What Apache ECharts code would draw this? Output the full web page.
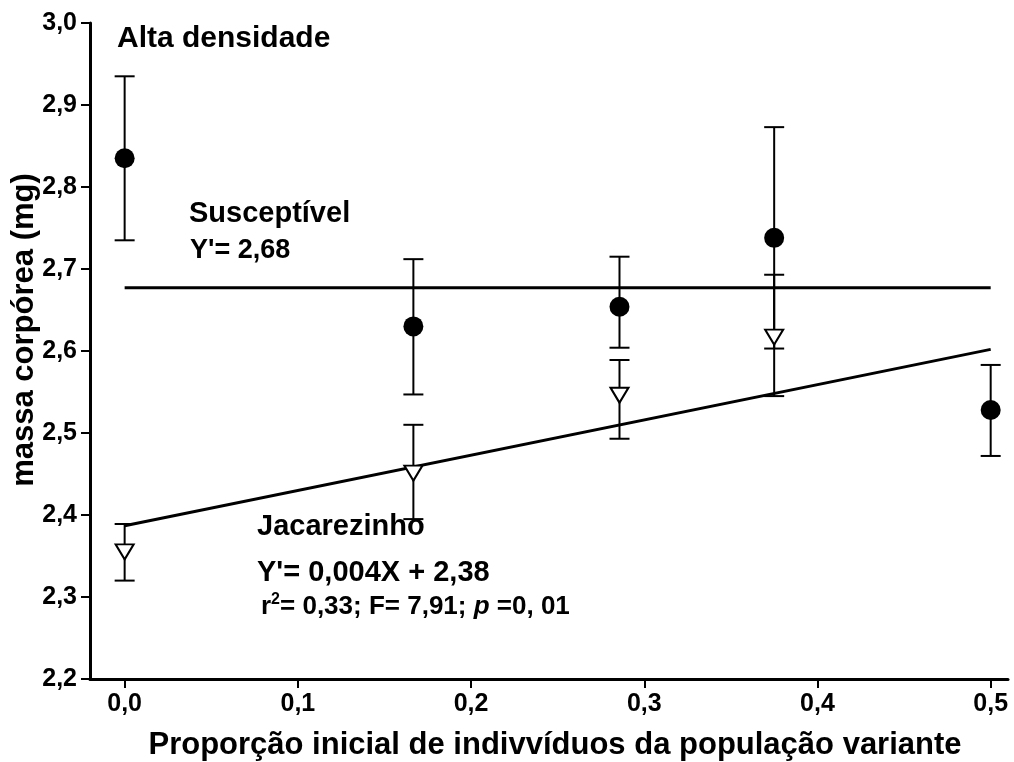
<!DOCTYPE html>
<html><head><meta charset="utf-8">
<script src="https://cdn.jsdelivr.net/npm/echarts@6/dist/echarts.min.js"></script>
<style>html,body{margin:0;padding:0;background:#fff}#c{width:1014px;height:762px}</style>
</head><body><div id="c"></div>
<script>
// Susceptível (filled circles)
const suscX = [0, 0.1667, 0.2857, 0.375, 0.5];
const suscMean = [2.835, 2.630, 2.654, 2.738, 2.528];
const suscLow = [2.735, 2.547, 2.604, 2.603, 2.472];
const suscHigh = [2.935, 2.712, 2.715, 2.873, 2.583];
// Jacarezinho (open triangles)
const jacX = [0, 0.1667, 0.2857, 0.375];
const jacMean = [2.355, 2.451, 2.546, 2.617];
const jacLow = [2.320, 2.395, 2.493, 2.545];
const jacHigh = [2.389, 2.510, 2.589, 2.693];
// fitted lines
const suscLineX = [0, 0.5];
const suscLineY = [2.677, 2.677];
const jacLineX = [0, 0.5];
const jacLineY = [2.387, 2.602];
// ticks
const xTicks = [0, 0.1, 0.2, 0.3, 0.4, 0.5];

const FONT = "'Liberation Sans', Arial, sans-serif";
const fmt = v => (Math.round(v * 10) / 10).toFixed(1).replace('.', ',');

const errData = (xs, lo, hi) => xs.map((x, i) => [x, lo[i], hi[i]]);
const pts = (xs, ys) => xs.map((x, i) => [x, ys[i]]);

function errRender(params, api) {
  const x = api.value(0);
  const p1 = api.coord([x, api.value(1)]);
  const p2 = api.coord([x, api.value(2)]);
  const hw = 10;
  const st = { stroke: '#000', lineWidth: 2 };
  return {
    type: 'group',
    children: [
      { type: 'line', shape: { x1: p1[0], y1: p1[1], x2: p2[0], y2: p2[1] }, style: st },
      { type: 'line', shape: { x1: p1[0] - hw, y1: p1[1], x2: p1[0] + hw, y2: p1[1] }, style: st },
      { type: 'line', shape: { x1: p2[0] - hw, y1: p2[1], x2: p2[0] + hw, y2: p2[1] }, style: st }
    ]
  };
}

const chart = echarts.init(document.getElementById('c'));
chart.setOption({
  animation: false,
  backgroundColor: '#fff',
  grid: { left: 90, right: 6, top: 23, bottom: 83 },
  xAxis: {
    type: 'value', min: -0.02, max: 0.51,
    splitLine: { show: false },
    axisLine: { show: true, onZero: false, lineStyle: { color: '#000', width: 3 } },
    axisTick: { show: true, customValues: xTicks, length: 9, lineStyle: { color: '#000', width: 2 } },
    axisLabel: { customValues: xTicks, formatter: fmt, color: '#000', fontFamily: FONT, fontWeight: 'bold', fontSize: 25, margin: 13 }
  },
  yAxis: {
    type: 'value', min: 2.2, max: 3.0, interval: 0.1,
    splitLine: { show: false },
    axisLine: { show: true, onZero: false, lineStyle: { color: '#000', width: 3 } },
    axisTick: { show: true, length: 9, lineStyle: { color: '#000', width: 2 } },
    axisLabel: { formatter: fmt, color: '#000', fontFamily: FONT, fontWeight: 'bold', fontSize: 25, margin: 13 }
  },
  series: [
    { type: 'custom', name: 'errS', data: errData(suscX, suscLow, suscHigh), renderItem: errRender, z: 2 },
    { type: 'custom', name: 'errJ', data: errData(jacX, jacLow, jacHigh), renderItem: errRender, z: 2 },
    { type: 'line', data: pts(suscLineX, suscLineY), symbol: 'none', lineStyle: { color: '#000', width: 3 }, z: 3 },
    { type: 'line', data: pts(jacLineX, jacLineY), symbol: 'none', lineStyle: { color: '#000', width: 3 }, z: 3 },
    { type: 'scatter', data: pts(suscX, suscMean), symbol: 'circle', symbolSize: 20,
      itemStyle: { color: '#000', opacity: 1 }, z: 4 },
    { type: 'scatter', data: pts(jacX, jacMean), symbol: 'triangle', symbolRotate: 180, symbolSize: [18, 15],
      itemStyle: { color: '#fff', borderColor: '#000', borderWidth: 2, opacity: 1 }, z: 4 }
  ],
  graphic: [
    { type: 'text', left: 117, top: 24, style: { text: 'Alta densidade', font: `bold 30px ${FONT}`, fill: '#000' } },
    { type: 'text', left: 189, top: 199, style: { text: 'Susceptível', font: `bold 29px ${FONT}`, fill: '#000' } },
    { type: 'text', left: 190, top: 237, style: { text: "Y'= 2,68", font: `bold 27px ${FONT}`, fill: '#000' } },
    { type: 'text', left: 257, top: 512, style: { text: 'Jacarezinho', font: `bold 29px ${FONT}`, fill: '#000' } },
    { type: 'text', left: 257, top: 558, style: { text: "Y'= 0,004X + 2,38", font: `bold 29px ${FONT}`, fill: '#000' } },
    { type: 'text', left: 261, top: 592, style: {
        text: '{a|r}{s|2}{a|= 0,33; F= 7,91; }{i|p}{a| =0, 01}',
        rich: {
          a: { font: `bold 26px ${FONT}`, fill: '#000', lineHeight: 30 },
          s: { font: `bold 16px ${FONT}`, fill: '#000', lineHeight: 30, padding: [0, 0, 14, 0] },
          i: { font: `italic bold 26px ${FONT}`, fill: '#000', lineHeight: 30 }
        } } },
    { type: 'text', x: 555, y: 745, style: { text: 'Proporção inicial de indivvíduos da população variante', font: `bold 31px ${FONT}`, fill: '#000', textAlign: 'center', textVerticalAlign: 'middle' } },
    { type: 'text', x: 24, y: 330, rotation: Math.PI / 2, style: { text: 'massa corpórea (mg)', font: `bold 31px ${FONT}`, fill: '#000', textAlign: 'center', textVerticalAlign: 'middle' } }
  ]
});
</script></body></html>
